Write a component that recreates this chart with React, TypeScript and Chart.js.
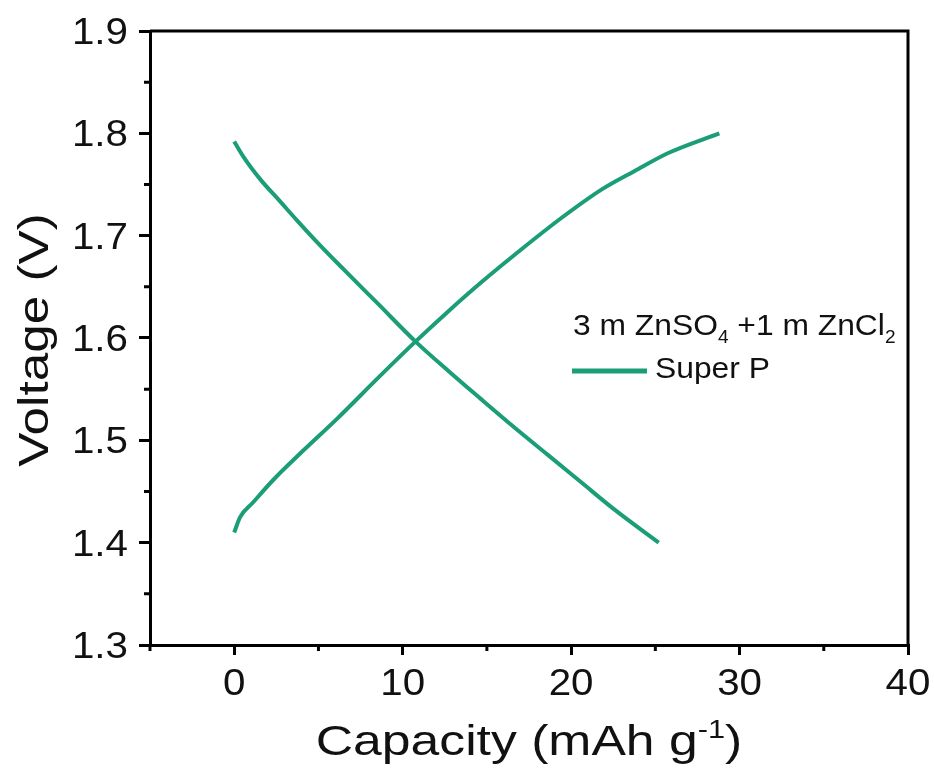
import React, { useEffect, useRef } from "react";
import { Chart, registerables } from "chart.js";

Chart.register(...registerables);

const chargeCapacity = [0, 0.35, 1.1, 2.3, 4.1, 6.1, 8.6, 10.6, 12.7, 14.6, 17.0, 19.4, 21.8, 23.75, 25.8, 28.8];
const chargeVoltage = [1.41, 1.425, 1.439, 1.461, 1.49, 1.521, 1.562, 1.594, 1.626, 1.6535, 1.686, 1.717, 1.745, 1.763, 1.781, 1.8];

const dischargeCapacity = [0, 0.55, 1.55, 2.75, 3.75, 4.9, 6.5, 8.5, 10.8, 12.7, 14.6, 16.6, 18.6, 20.6, 22.6, 25.2];
const dischargeVoltage = [1.792, 1.777, 1.755, 1.733, 1.7145, 1.694, 1.667, 1.634, 1.596, 1.568, 1.541, 1.513, 1.486, 1.459, 1.432, 1.4];

const xMajorTicks = [0, 10, 20, 30, 40];
const xMinorTicks = [-5, 5, 15, 25, 35];
const yMajorTicks = [1.3, 1.4, 1.5, 1.6, 1.7, 1.8, 1.9];
const yMinorTicks = [1.35, 1.45, 1.55, 1.65, 1.75, 1.85];

const xTitle = "Capacity (mAh g";
const xTitleSup = "-1";
const yTitle = "Voltage (V)";
const seriesLabel = "Super P";
const legendTitleParts = [
  { text: "3 m ZnSO", sub: false },
  { text: "4", sub: true },
  { text: " +1 m ZnCl", sub: false },
  { text: "2", sub: true },
];

const GREEN = "#1b9e77";
const TEXT = "#111";
const FONT = 'Arial, "Liberation Sans", sans-serif';

function stretchedText(
  ctx: CanvasRenderingContext2D,
  text: string,
  x: number,
  y: number,
  size: number,
  sx: number,
  align: "left" | "center" | "right"
) {
  ctx.save();
  ctx.font = `${size}px ${FONT}`;
  ctx.textAlign = align;
  ctx.textBaseline = "alphabetic";
  ctx.translate(x, y);
  ctx.scale(sx, 1);
  ctx.fillText(text, 0, 0);
  ctx.restore();
}

const framePlugin = {
  id: "frame",
  afterDraw(chart: any) {
    const { ctx, chartArea, scales } = chart;
    const { left, right, top, bottom } = chartArea;
    ctx.save();
    ctx.strokeStyle = "#000";
    ctx.lineWidth = 3;
    ctx.beginPath();
    ctx.moveTo(left, top);
    ctx.lineTo(right, top);
    ctx.lineTo(right, bottom);
    ctx.stroke();
    // minor ticks
    ctx.beginPath();
    xMinorTicks.forEach((v) => {
      const px = scales.x.getPixelForValue(v);
      ctx.moveTo(px, bottom);
      ctx.lineTo(px, bottom + 6);
    });
    yMinorTicks.forEach((v) => {
      const py = scales.y.getPixelForValue(v);
      ctx.moveTo(left, py);
      ctx.lineTo(left - 6, py);
    });
    ctx.stroke();

    ctx.fillStyle = TEXT;
    // tick labels
    yMajorTicks.forEach((v) => {
      const py = scales.y.getPixelForValue(v);
      stretchedText(ctx, v.toFixed(1), left - 22, py + 13, 36, 1.12, "right");
    });
    xMajorTicks.forEach((v) => {
      const px = scales.x.getPixelForValue(v);
      stretchedText(ctx, String(v), px, bottom + 50, 36, 1.12, "center");
    });

    // x title with superscript
    {
      const sx = 1.23;
      ctx.save();
      ctx.font = `42px ${FONT}`;
      const w1 = ctx.measureText(xTitle).width;
      ctx.font = `25px ${FONT}`;
      const w2 = ctx.measureText(xTitleSup).width;
      ctx.font = `42px ${FONT}`;
      const w3 = ctx.measureText(")").width;
      const total = (w1 + w2 + w3) * sx;
      const cx = (left + right) / 2;
      ctx.translate(cx - total / 2, bottom + 110);
      ctx.scale(sx, 1);
      ctx.textAlign = "left";
      ctx.textBaseline = "alphabetic";
      ctx.fillText(xTitle, 0, 0);
      ctx.font = `25px ${FONT}`;
      ctx.fillText(xTitleSup, w1, -17);
      ctx.font = `42px ${FONT}`;
      ctx.fillText(")", w1 + w2, 0);
      ctx.restore();
    }
    // y title
    {
      ctx.save();
      ctx.translate(48, (top + bottom) / 2 + 2);
      ctx.rotate(-Math.PI / 2);
      ctx.scale(1.22, 1);
      ctx.font = `42px ${FONT}`;
      ctx.textAlign = "center";
      ctx.textBaseline = "alphabetic";
      ctx.fillText(yTitle, 0, 0);
      ctx.restore();
    }

    // legend
    const lx = left + 423;
    const ly1 = top + 304;
    {
      ctx.save();
      ctx.translate(lx, ly1);
      ctx.scale(1.06, 1);
      ctx.textAlign = "left";
      ctx.textBaseline = "alphabetic";
      let x = 0;
      legendTitleParts.forEach((p) => {
        if (p.sub) {
          ctx.font = `18px ${FONT}`;
          ctx.fillText(p.text, x, 8);
        } else {
          ctx.font = `30px ${FONT}`;
          ctx.fillText(p.text, x, 0);
        }
        x += ctx.measureText(p.text).width;
      });
      ctx.restore();
    }
    const ly2 = ly1 + 36;
    ctx.strokeStyle = GREEN;
    ctx.lineWidth = 5;
    ctx.beginPath();
    ctx.moveTo(lx - 1, ly2);
    ctx.lineTo(lx + 74, ly2);
    ctx.stroke();
    stretchedText(ctx, seriesLabel, lx + 82, ly2 + 7, 30, 1.06, "left");
    ctx.restore();
  },
};

export default function App() {
  const ref = useRef<HTMLCanvasElement>(null);
  useEffect(() => {
    if (!ref.current) return;
    const mk = (xs: number[], ys: number[], label: string) => ({
      label,
      data: xs.map((c, i) => ({ x: c, y: ys[i] })),
      borderColor: GREEN,
      borderWidth: 4,
      pointRadius: 0,
      cubicInterpolationMode: "monotone" as const,
      fill: false,
    });
    const chart = new Chart(ref.current, {
      type: "line",
      data: {
        datasets: [
          mk(chargeCapacity, chargeVoltage, seriesLabel + " charge"),
          mk(dischargeCapacity, dischargeVoltage, seriesLabel + " discharge"),
        ],
      },
      options: {
        animation: false,
        responsive: true,
        maintainAspectRatio: false,
        layout: { padding: { left: 0, top: 31, right: 26, bottom: 0 } },
        plugins: { legend: { display: false }, tooltip: { enabled: false } },
        scales: {
          x: {
            type: "linear",
            min: -5,
            max: 40,
            afterBuildTicks: (s: any) => {
              s.ticks = xMajorTicks.map((v) => ({ value: v }));
            },
            afterFit: (s: any) => {
              s.height = 129;
            },
            ticks: { display: false },
            grid: { drawOnChartArea: false, drawTicks: true, tickLength: 10, lineWidth: 3, color: "#000" },
            border: { display: true, width: 3, color: "#000" },
          },
          y: {
            type: "linear",
            min: 1.3,
            max: 1.9,
            afterBuildTicks: (s: any) => {
              s.ticks = yMajorTicks.map((v) => ({ value: v }));
            },
            afterFit: (s: any) => {
              s.width = 150;
            },
            ticks: { display: false },
            grid: { drawOnChartArea: false, drawTicks: true, tickLength: 11, lineWidth: 3, color: "#000" },
            border: { display: true, width: 3, color: "#000" },
          },
        },
      },
      plugins: [framePlugin],
    });
    return () => chart.destroy();
  }, []);
  return (
    <div style={{ position: "fixed", left: 0, top: 0, width: 934, height: 774, background: "#fff" }}>
      <canvas ref={ref} />
    </div>
  );
}
